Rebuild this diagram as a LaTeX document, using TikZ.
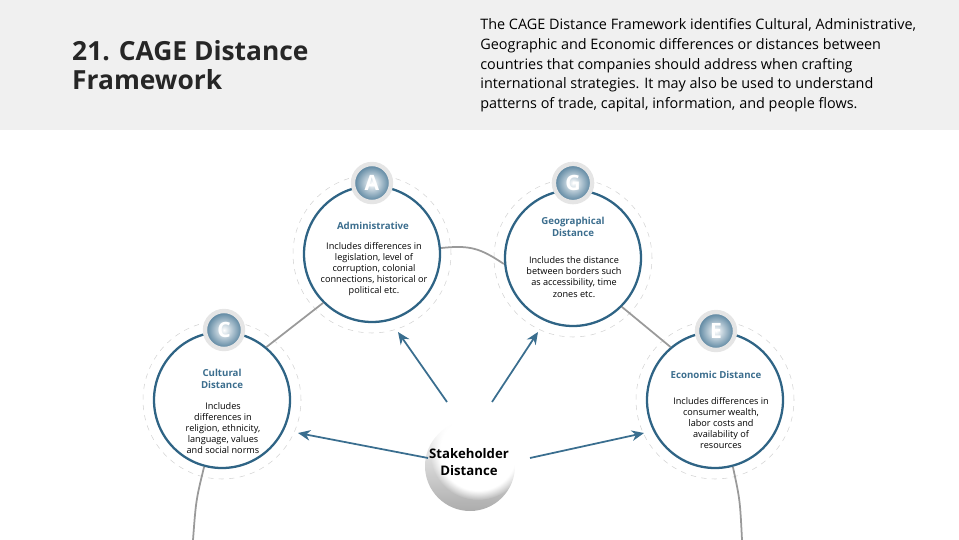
\documentclass[tikz,border=0pt]{standalone}
\usepackage{fontspec}
\setmainfont{Open Sans}
\usetikzlibrary{arrows.meta,fadings}
\definecolor{ring}{HTML}{2F6485}
\definecolor{head}{HTML}{3C6E8E}
\definecolor{conn}{HTML}{9A9A9A}
\definecolor{arr}{HTML}{3A6E8F}
\begin{document}
\begin{tikzpicture}[x=0.02cm,y=-0.02cm,
  big/.style={circle,draw=ring,line width=1.3pt,fill=white,minimum size=136*0.02cm,inner sep=0pt},
  halo/.style={circle,draw=gray!35,dashed,line width=0.3pt,minimum size=158*0.02cm},
  badge/.style={circle,draw=gray!20,line width=2.5pt,inner color=white,outer color=head!90,minimum size=38*0.02cm,text=white,font=\bfseries\fontsize{12}{12}\selectfont},
  htext/.style={text=head,font=\bfseries\fontsize{5.5}{6.5}\selectfont,align=center},
  btext/.style={font=\fontsize{5.2}{6.3}\selectfont,align=center},
  link/.style={draw=conn,line width=1pt},
  arrow/.style={draw=arr,line width=1pt,-{Stealth[length=7pt,width=6pt]}}]
\useasboundingbox (0,0) rectangle (959,540);
\fill[gray!12] (0,0) rectangle (959,130);
\node[anchor=north west,align=left,font=\bfseries\fontsize{15}{16.5}\selectfont,text=black!85] (title) at (66,34) {21. CAGE Distance\\Framework};
\node[anchor=north west,align=left,font=\fontsize{8.2}{11.3}\selectfont,inner sep=0pt] (desc) at (480,18) {The CAGE Distance Framework identifies Cultural, Administrative,\\Geographic and Economic differences or distances between\\countries that companies should address when crafting\\international strategies. It may also be used to understand\\patterns of trade, capital, information, and people flows.};
% links
\coordinate (cb) at (193,540); \coordinate (eb) at (742,540);
\node[halo] (hA) at (372,254) {}; \node[halo] (hG) at (573,258) {};
\node[halo] (hC) at (222,400) {}; \node[halo] (hE) at (715,400) {};
\node[big] (A) at (372,254) {}; \node[big] (G) at (573,258) {};
\node[big] (C) at (222,400) {}; \node[big] (E) at (715,400) {};
\draw[link] (A.east) ++(0,-6) .. controls (470,245) and (480,248) .. ([yshift=-6*0.02cm]G.west);
\draw[link] (A.225) -- (C.50);
\draw[link] (G.-45) -- (E.130);
\draw[link] (C.255) .. controls (196,500) .. (cb);
\draw[link] (E.285) .. controls (740,500) .. (eb);
\node[badge] (bA) at (372,183) {A}; \node[badge] (bG) at (573,183) {G};
\node[badge] (bC) at (224,330) {C}; \node[badge] (bE) at (716,331) {E};
\node[htext] (tA) at (373,226) {Administrative};
\node[btext] (dA) at (374,269) {Includes differences in\\legislation, level of\\corruption, colonial\\connections, historical or\\political etc.};
\node[htext] (tG) at (573,227) {Geographical\\Distance};
\node[btext] (dG) at (574,277) {Includes the distance\\between borders such\\as accessibility, time\\zones etc.};
\node[htext] (tC) at (222,379) {Cultural\\Distance};
\node[btext] (dC) at (223,428) {Includes\\differences in\\religion, ethnicity,\\language, values\\and social norms};
\node[htext] (tE) at (716,375) {Economic Distance};
\node[btext] (dE) at (721,423) {Includes differences in\\consumer wealth,\\labor costs and\\availability of\\resources};
% stakeholder
\shade[top color=white,bottom color=gray!65] (470,466) circle[radius=45];
\fill[white,path fading=circle with fuzzy edge 20 percent] (478,452) circle[radius=48];
\node[font=\bfseries\fontsize{7.5}{9.5}\selectfont,align=center] (S) at (469,462) {Stakeholder\\Distance};
\coordinate (sC) at (428,458); \coordinate (sA) at (447,402);
\coordinate (sG) at (492,402); \coordinate (sE) at (530,458);
\coordinate (eC) at (298,433); \coordinate (eA) at (398,332);
\coordinate (eG) at (538,332); \coordinate (eE) at (644,433);
\draw[arrow] (sC) -- (eC); \draw[arrow] (sA) -- (eA);
\draw[arrow] (sG) -- (eG); \draw[arrow] (sE) -- (eE);
\end{tikzpicture}
\end{document}
